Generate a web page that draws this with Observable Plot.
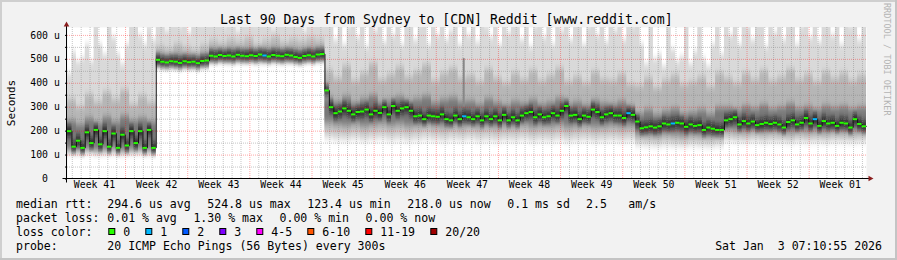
<!DOCTYPE html>
<html><head><meta charset="utf-8">
<script src="https://cdn.jsdelivr.net/npm/d3@7"></script>
<script src="https://cdn.jsdelivr.net/npm/@observablehq/plot@0.6"></script>
<style>
html,body{margin:0;padding:0;background:#f2f2f2;}
#chart{position:relative;width:897px;height:260px;overflow:hidden;}
svg text{white-space:pre;}
</style></head><body><div id="chart"></div>
<script>
// ---------- data ----------
const startTime = Date.UTC(2025, 9, 6, 11, 0);   // left edge of the graph
const DAY = 864e5;
const spanDays = 90;

// median RTT (microseconds), one value per 12 h
const median = [
  200,135,160,130,195,150,205,145,200,135,190,130,185,140,200,150,200,130,205,130,
  498,490,487,492,490,485,492,488,490,484,493,495,
  515,512,518,514,516,512,519,515,513,517,514,520,516,512,518,515,513,519,516,510,506,514,517,512,520,522,
  370,
  300,275,282,295,285,270,280,282,290,270,285,276,300,270,305,285,295,300,285,262,265,250,265,262,260,270,250,245,265,250,262,
  258,250,262,245,262,250,262,245,268,245,258,245,265,275,280,258,270,258,262,275,265,285,305,265,268,250,265,260,290,280,258,270,275,265,265,255,275,268,240,212,216,220,215,220,
  232,228,232,235,232,218,228,222,225,205,215,210,205,205,245,250,258,228,242,232,240,225,230,235,230,235,228,215,238,245,228,235,255,232,250,222,242,232,235,222,235,232,215,250,230,220
];
// top of the smoke (slowest ping), one value per 12 h
const smokeMax = [
  440,530,490,505,560,490,700,560,520,700,590,520,480,560,700,700,600,560,640,580,
  700,700,620,700,700,640,700,610,700,700,650,700,
  700,700,700,640,700,700,620,700,700,700,650,700,700,700,630,700,700,700,660,700,700,620,700,700,700,650,
  700,
  700,580,700,560,640,700,590,700,550,700,620,700,570,700,600,700,560,700,700,580,
  650,700,560,700,600,700,580,620,700,560,700,600,700,570,700,640,590,700,560,700,
  610,700,700,580,700,550,640,700,590,700,560,700,620,700,580,700,700,560,640,700,
  600,700,570,700,620,700,580,700,640,700,
  560,480,700,500,520,470,700,540,490,510,700,480,530,700,500,470,560,700,520,
  700,600,700,560,700,640,580,700,700,550,700,610,700,580,700,700,560,640,700,590,
  700,570,700,700,600,700,560,700,640,700,580,700
];
// daily ping quantiles (microseconds)
const q0 = [106,105,108,104,106,107,103,105,107,104, 472,474,470,473,471,475,
  490,492,488,491,493,489,490,492,488,491,490,493,494,
  168,162,160,165,158,162,166,160,163,158,161,165,160,157,162,159,163,158,160,156,160,158,162,155,159,157,161,155,158,160,154,157,159,155,158,
  140,138,136,140,137,135,139,136,134,138,
  158,155,152,156,150,154,152,149,155,151,153,150,154,152,150,153];
const q10 = [116,114,118,113,115,117,112,115,117,113, 478,480,476,479,477,481,
  497,499,495,498,500,496,497,499,495,498,497,500,501,
  200,195,192,198,190,196,200,193,197,190,194,199,193,189,195,191,196,190,193,188,192,190,195,187,191,189,194,186,190,193,186,189,192,187,190,
  165,162,160,165,161,158,163,160,158,162,
  182,178,175,180,174,178,176,172,179,175,177,173,178,176,174,177];
const q25 = [126,124,129,122,125,128,121,125,127,123, 483,485,481,484,482,486,
  503,505,501,504,506,502,503,505,501,504,503,506,507,
  238,230,226,233,224,230,236,227,232,224,228,234,227,222,229,225,231,224,227,221,226,224,230,220,225,223,229,219,224,228,219,223,227,221,224,
  190,187,184,190,186,182,188,185,182,187,
  208,203,200,206,198,203,201,196,204,200,202,197,203,201,198,202];
const q75 = [240,225,250,230,255,235,260,240,250,235, 512,508,515,510,506,513,
  532,528,535,530,536,529,533,538,530,534,531,537,535,
  335,320,340,315,330,345,318,325,338,322,330,342,316,328,335,320,322,308,330,315,305,320,312,326,308,316,332,310,318,305,324,312,308,320,300,
  270,285,265,280,290,270,275,285,268,295,
  295,285,300,290,305,288,296,310,290,298,286,302,294,300,288,296];
const q90 = [330,300,350,320,360,330,370,310,345,320, 550,540,560,545,535,555,
  575,565,580,570,585,560,575,590,568,580,572,585,578,
  450,420,470,410,440,480,415,435,465,425,445,475,410,440,460,420,430,405,455,420,400,440,415,450,410,430,460,405,425,400,445,415,410,435,395,
  390,420,380,410,430,395,405,425,385,440,
  420,400,440,415,450,410,425,455,415,435,405,445,420,440,410,430];
// 12 h steps that lost one ping
const lossBins = [44, 89, 126, 136, 168];
// one odd sample
const spikeDay = [44.63], spikeLow = [300], spikeHigh = [503];

const yTickValues = [0,100,200,300,400,500,600];
const yTickLabels = ["0\u00a0\u00a0","100 u","200 u","300 u","400 u","500 u","600 u"];
const weekLabels = ["Week 41","Week 42","Week 43","Week 44","Week 45","Week 46","Week 47","Week 48","Week 49","Week 50","Week 51","Week 52","Week 01"];

const lossColors = ["#26ff00","#00b8ff","#0059ff","#7e00ff","#ff00fe","#ff5500","#ff0000","#a00000"];
const lossLabels = ["0","1","2","3","4-5","6-10","11-19","20/20"];

const titleText = "Last 90 Days from Sydney to [CDN] Reddit [www.reddit.com]";
const rttStats = ["294.6 us avg","524.8 us max","123.4 us min","218.0 us now","0.1 ms sd"];
const amsValue = "2.5", amsUnit = "am/s";
const lossStats = ["0.01 % avg","1.30 % max","0.00 % min","0.00 % now"];
const probeText = "20 ICMP Echo Pings (56 Bytes) every 300s";
const stampText = "Sat Jan  3 07:10:55 2026";

// ---------- tables ----------
const x0 = new Date(startTime), x1 = new Date(startTime + spanDays * DAY);
const bins = median.map((v, i) => {
  const d = Math.floor(i / 2);
  return {t0: new Date(startTime + i * DAY / 2), t1: new Date(startTime + (i + 1) * DAY / 2),
    med: v, max: smokeMax[i], q0: q0[d], q10: q10[d], q25: q25[d], q75: q75[d], q90: q90[d],
    loss: lossBins.includes(i) ? 1 : 0};
});
const rows = bins.map(b => ({t: b.t0, ...b}));
rows.push({...bins[bins.length - 1], t: bins[bins.length - 1].t1});

const spikes = spikeDay.map((d, i) => ({t: new Date(startTime + d * DAY), lo: spikeLow[i], hi: spikeHigh[i]}));

const mondays = d3.utcMonday.range(x0, x1);
const days = d3.utcDay.range(x0, x1).filter(d => d.getUTCDay() !== 1);
const weekCenters = d3.utcMonday.range(new Date(+x0 - 7 * DAY), x1)
  .map(m => new Date(+m + 3.5 * DAY)).filter(t => t > x0 && t < x1)
  .map((t, i) => ({t, label: weekLabels[i]}));
const minorY = d3.range(50, 633, 100);
const majorY = d3.range(100, 633, 100);

const plot = Plot.plot({
  width: 897, height: 260,
  marginLeft: 67, marginRight: 31, marginTop: 27, marginBottom: 81.5,
  style: {fontFamily: "'DejaVu Sans Mono', monospace", fontSize: "9.8px", background: "#f2f2f2", color: "#000", overflow: "visible"},
  x: {type: "utc", domain: [x0, x1], axis: null},
  y: {domain: [0, 633], axis: null},
  marks: [
    Plot.frame({fill: "white", stroke: "none"}),
    Plot.areaY(rows, {x: "t", y1: "q0", y2: "max", curve: "step-after", fill: "#d9d9d9"}),
    Plot.areaY(rows, {x: "t", y1: "q10", y2: "q90", curve: "step-after", fill: "#b6b6b6"}),
    Plot.areaY(rows, {x: "t", y1: "q25", y2: "q75", curve: "step-after", fill: "#777777"}),
    Plot.ruleY(bins, {x1: "t0", x2: "t1", y: "med", stroke: "#111", strokeOpacity: 0.5, strokeWidth: 12}),
    Plot.ruleY(bins, {x1: "t0", x2: "t1", y: "med", stroke: "#111", strokeOpacity: 0.45, strokeWidth: 5}),
    Plot.ruleX(spikes, {x: "t", y1: "lo", y2: "hi", stroke: "#888", strokeWidth: 2}),
    Plot.ruleY(minorY, {stroke: "#808080", strokeOpacity: 0.45, strokeDasharray: "1,1"}),
    Plot.ruleX(days, {stroke: "#808080", strokeOpacity: 0.45, strokeDasharray: "1,1"}),
    Plot.ruleY(majorY, {stroke: "#ff0000", strokeOpacity: 0.35, strokeDasharray: "1,1"}),
    Plot.ruleX(mondays, {stroke: "#ff0000", strokeOpacity: 0.35, strokeDasharray: "1,1"}),
    Plot.line(rows, {x: "t", y: "med", curve: "step-after", stroke: "#111", strokeWidth: 1}),
    Plot.ruleY(bins, {x1: "t0", x2: "t1", y: "med", stroke: d => lossColors[d.loss], strokeWidth: 2}),
    Plot.axisY({ticks: d3.range(0, 601, 50), tickSize: 2, tickFormat: () => "", label: null}),
    Plot.axisY({ticks: yTickValues, tickSize: 0, tickPadding: 7.7, tickFormat: d => yTickLabels[yTickValues.indexOf(d)], label: null, fontSize: 9.8}),
    Plot.text(weekCenters, {x: "t", text: "label", frameAnchor: "bottom", dy: 9.4, fontSize: 9.8})
  ]
});
document.getElementById("chart").appendChild(plot);

// ---------- decorations ----------
const svg = d3.select(plot);
const xs = plot.scale("x"), ys = plot.scale("y");
const X0 = xs.apply(x0), X1 = xs.apply(x1), Y0 = ys.apply(0), YT = ys.apply(633);

const defs = svg.insert("defs", ":first-child");
defs.append("filter").attr("id", "vblur").attr("filterUnits", "userSpaceOnUse")
  .attr("x", 0).attr("y", 0).attr("width", 897).attr("height", 260)
  .append("feGaussianBlur").attr("stdDeviation", "0.2 3.5");
defs.append("filter").attr("id", "vblur2").attr("filterUnits", "userSpaceOnUse")
  .attr("x", 0).attr("y", 0).attr("width", 897).attr("height", 260)
  .append("feGaussianBlur").attr("stdDeviation", "0.3 2.5");
defs.append("clipPath").attr("id", "frameclip").append("rect")
  .attr("x", X0).attr("y", YT).attr("width", X1 - X0).attr("height", Y0 - YT);

// the three smoke areas and the two core rules, in mark order
const areaNodes = svg.selectAll("g[aria-label='area']").nodes();
const coreNodes = svg.selectAll("g[aria-label='rule']").nodes().slice(0, 2);
const wrap = svg.insert("g", () => areaNodes[0]).attr("clip-path", "url(#frameclip)");
areaNodes.forEach(n => { wrap.node().appendChild(n); n.setAttribute("filter", "url(#vblur)"); });
coreNodes.forEach(n => { wrap.node().appendChild(n); n.setAttribute("filter", "url(#vblur2)"); });

const AX = X0 - 0.5;
const arrow = "#8b1e1e";
svg.append("line").attr("x1", AX).attr("x2", AX).attr("y1", Y0 + 4).attr("y2", YT - 1).attr("stroke", "#000");
svg.append("line").attr("x1", AX - 4).attr("x2", X1 + 3).attr("y1", Y0).attr("y2", Y0).attr("stroke", "#000");
svg.append("polygon").attr("points", `${AX},${YT - 5.5} ${AX - 2.8},${YT - 0.5} ${AX + 2.8},${YT - 0.5}`).attr("fill", arrow);
svg.append("polygon").attr("points", `${X1 + 7.5},${Y0} ${X1 + 2.5},${Y0 - 2.8} ${X1 + 2.5},${Y0 + 2.8}`).attr("fill", arrow);

function txt(x, y, s, o = {}) {
  return svg.append("text").attr("x", x).attr("y", y)
    .attr("font-family", "'DejaVu Sans Mono', monospace")
    .attr("font-size", o.size || 11.55).attr("text-anchor", o.anchor || "start")
    .attr("fill", o.fill || "#000").attr("transform", o.transform || null).text(s);
}
// border
svg.append("rect").attr("x", 0).attr("y", 0).attr("width", 897).attr("height", 2).attr("fill", "#cfcfcf");
svg.append("rect").attr("x", 0).attr("y", 0).attr("width", 2).attr("height", 260).attr("fill", "#cfcfcf");
svg.append("rect").attr("x", 0).attr("y", 258).attr("width", 897).attr("height", 2).attr("fill", "#c4c4c4");
svg.append("rect").attr("x", 895).attr("y", 0).attr("width", 2).attr("height", 260).attr("fill", "#c4c4c4");

txt(446.3, 24, titleText, {size: 13.2, anchor: "middle"});
txt(0, 0, "Seconds", {size: 11, anchor: "middle", transform: "translate(14.5,103) rotate(-90)"});
txt(0, 0, "RRDTOOL / TOBI OETIKER", {size: 8.5, fill: "#b4b4b4", transform: "translate(884,3) rotate(90)"});

const L = 16, C = 107.3, cw = 7.0;
txt(L, 208, "median rtt:");
rttStats.forEach((s, i) => txt(C + 100 * i, 208, s));
txt(586, 208, amsValue);
txt(628.3, 208, amsUnit);
txt(L, 222, "packet loss:");
lossStats.forEach((s, i) => txt(C + 86.1 * i, 222, s));
txt(L, 236, "loss color:");
let bx = 108.3;
lossLabels.forEach((lab, i) => {
  svg.append("rect").attr("x", bx + 0.5).attr("y", 228.5).attr("width", 6).attr("height", 6)
    .attr("fill", lossColors[i]).attr("stroke", "#000").attr("stroke-width", 1);
  txt(bx + 15, 236, lab);
  bx += 15 + lab.length * cw + 15;
});
txt(L, 250, "probe:");
txt(C, 250, probeText);
txt(882, 250, stampText, {anchor: "end"});
</script></body></html>
